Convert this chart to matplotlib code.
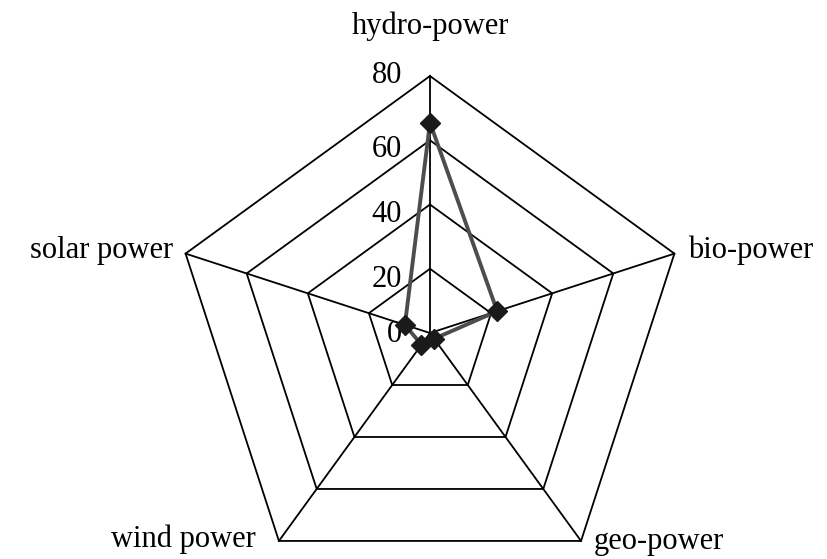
import numpy as np
import matplotlib
matplotlib.use("Agg")
import matplotlib.pyplot as plt
from matplotlib.transforms import offset_copy

categories = ["hydro-power", "bio-power", "geo-power", "wind power", "solar power"]
values = [65.5, 22.0, 2.2, 4.5, 8.2]
ring_levels = [0, 20, 40, 60, 80]
tick_labels = ["0", "20", "40", "60", "80"]

plt.rcParams['font.family'] = ['Liberation Serif', 'DejaVu Serif']

fig = plt.figure(figsize=(8.28, 5.59), dpi=100)
ax = fig.add_axes([0.2089, -0.0555, 0.6208, 0.9195], projection='polar')
ax.set_theta_offset(np.pi / 2)
ax.set_theta_direction(-1)
ax.set_ylim(0, 80)
ax.axis('off')

n = len(categories)
angles = np.linspace(0, 2 * np.pi, n, endpoint=False)
closed_angles = np.concatenate([angles, angles[:1]])

# rings
for lvl in ring_levels[1:]:
    ax.plot(closed_angles, [lvl] * (n + 1), color='black', lw=1.3, clip_on=False, zorder=1)
# spokes
for a in angles:
    ax.plot([a, a], [0, 80], color='black', lw=1.3, clip_on=False, zorder=1)

# data
vals = np.array(values + values[:1])
ax.plot(closed_angles, vals, color='#4d4d4d', lw=2.8, clip_on=False, zorder=3)
ax.plot(angles, values, linestyle='none', marker='D', ms=10, color='#1a1a1a',
        mec='#1a1a1a', clip_on=False, zorder=4)

fs = 22
# tick labels (baseline offsets in pixels)
tick_dy = [-9, -18, -17, -17, -7]
for lvl, lab, dy in zip(ring_levels, tick_labels, tick_dy):
    tr = offset_copy(ax.transData, fig=fig, x=-28, y=dy, units='dots')
    ax.text(0, lvl, lab, transform=tr, ha='right', va='baseline', fontsize=fs, zorder=2)

# category labels
offsets = {
    "hydro-power": (0, 42, 'center'),
    "bio-power": (14, -4, 'left'),
    "geo-power": (13, -8, 'left'),
    "wind power": (-23, -6, 'right'),
    "solar power": (-12, -4, 'right'),
}
for a, cat in zip(angles, categories):
    dx, dy, ha = offsets[cat]
    tr = offset_copy(ax.transData, fig=fig, x=dx, y=dy, units='dots')
    ax.text(a, 80, cat, transform=tr, ha=ha, va='baseline', fontsize=fs)

fig.savefig("out.png", dpi=100)
